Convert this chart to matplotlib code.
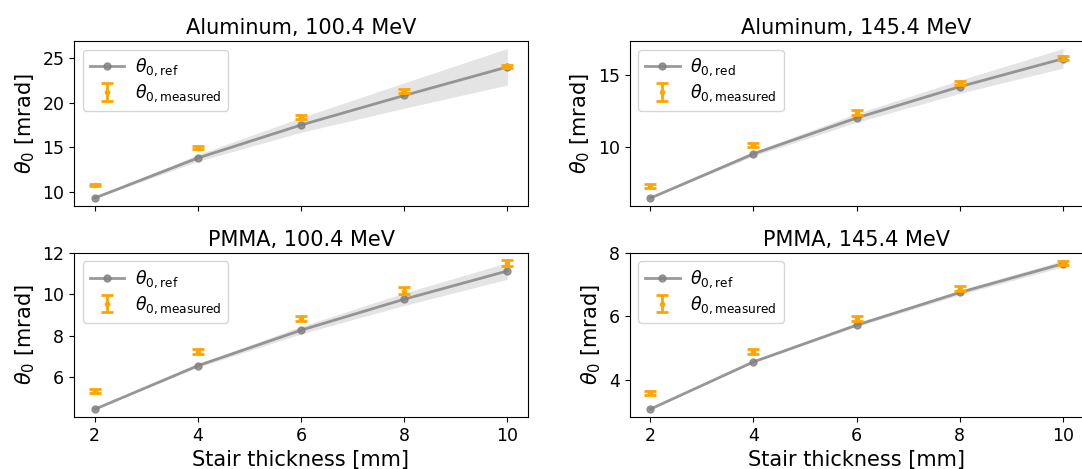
import numpy as np
import matplotlib
matplotlib.use("Agg")
from matplotlib import pyplot as plt

thickness = [2, 4, 6, 8, 10]

titles = ["Aluminum, 100.4 MeV", "Aluminum, 145.4 MeV",
          "PMMA, 100.4 MeV", "PMMA, 145.4 MeV"]
ref_labels = [r"$\theta_{0,\mathrm{ref}}$", r"$\theta_{0,\mathrm{red}}$",
              r"$\theta_{0,\mathrm{ref}}$", r"$\theta_{0,\mathrm{ref}}$"]

# reference curves
ref_al100 = [9.33, 13.82, 17.52, 20.83, 24.03]
ref_al145 = [6.50, 9.55, 12.02, 14.17, 16.10]
ref_pm100 = [4.46, 6.56, 8.27, 9.76, 11.12]
ref_pm145 = [3.10, 4.58, 5.73, 6.75, 7.65]

# shaded band around the reference
low_al100 = [9.28, 13.45, 16.70, 19.40, 22.00]
up_al100 = [9.38, 14.20, 18.35, 22.25, 26.10]
low_al145 = [6.48, 9.40, 11.72, 13.72, 15.45]
up_al145 = [6.52, 9.70, 12.32, 14.62, 16.80]
low_pm100 = [4.45, 6.48, 8.09, 9.46, 10.72]
up_pm100 = [4.47, 6.64, 8.45, 10.06, 11.52]
low_pm145 = [3.09, 4.55, 5.68, 6.68, 7.55]
up_pm145 = [3.11, 4.61, 5.78, 6.82, 7.75]

# measurements
meas_al100 = [10.78, 14.99, 18.40, 21.35, 24.10]
err_al100 = [0.15, 0.20, 0.25, 0.25, 0.20]
meas_al145 = [7.33, 10.17, 12.40, 14.43, 16.14]
err_al145 = [0.12, 0.15, 0.15, 0.15, 0.12]
meas_pm100 = [5.33, 7.23, 8.85, 10.18, 11.50]
err_pm100 = [0.10, 0.12, 0.12, 0.15, 0.15]
meas_pm145 = [3.60, 4.90, 5.94, 6.87, 7.67]
err_pm145 = [0.07, 0.07, 0.08, 0.08, 0.06]

yticks = [[10, 15, 20, 25], [10, 15], [6, 8, 10, 12], [4, 6, 8]]

refs = [ref_al100, ref_al145, ref_pm100, ref_pm145]
lows = [low_al100, low_al145, low_pm100, low_pm145]
ups = [up_al100, up_al145, up_pm100, up_pm145]
meas = [meas_al100, meas_al145, meas_pm100, meas_pm145]
errs = [err_al100, err_al145, err_pm100, err_pm145]

W, H = 1082, 469
fig = plt.figure(figsize=(W / 100, H / 100), dpi=100)

# axes boxes in pixels: (left, top, right, bottom)
boxes = [(74, 41, 528, 206), (629.5, 41, 1083.6, 206),
         (74, 252.5, 528, 417), (629.5, 252.5, 1083.6, 417)]

for i in range(4):
    l, t, r, b = boxes[i]
    ax = fig.add_axes([l / W, 1 - b / H, (r - l) / W, (b - t) / H])
    ax.fill_between(thickness, lows[i], ups[i], color="lightgray", alpha=0.6,
                    linewidth=0)
    ax.plot(thickness, refs[i], "o-", color="gray", alpha=0.8, lw=2, ms=5,
            label=ref_labels[i])
    ax.errorbar(thickness, meas[i], yerr=errs[i], fmt=".", color="orange",
                ms=6, capsize=4, elinewidth=2, capthick=2,
                label=r"$\theta_{0,\mathrm{measured}}$")
    ax.set_title(titles[i], fontsize=15, pad=5)
    ax.set_ylabel(r"$\theta_0$ [mrad]", fontsize=15)
    ax.set_yticks(yticks[i])
    ax.set_xticks(thickness)
    ax.tick_params(labelsize=12.5)
    if i < 2:
        ax.set_xticklabels([])
    else:
        ax.set_xlabel("Stair thickness [mm]", fontsize=15)
    ax.legend(loc="upper left", fontsize=12.5, labelspacing=0.25,
              handletextpad=0.6, borderaxespad=0.5)

fig.savefig("out.png", dpi=100)
